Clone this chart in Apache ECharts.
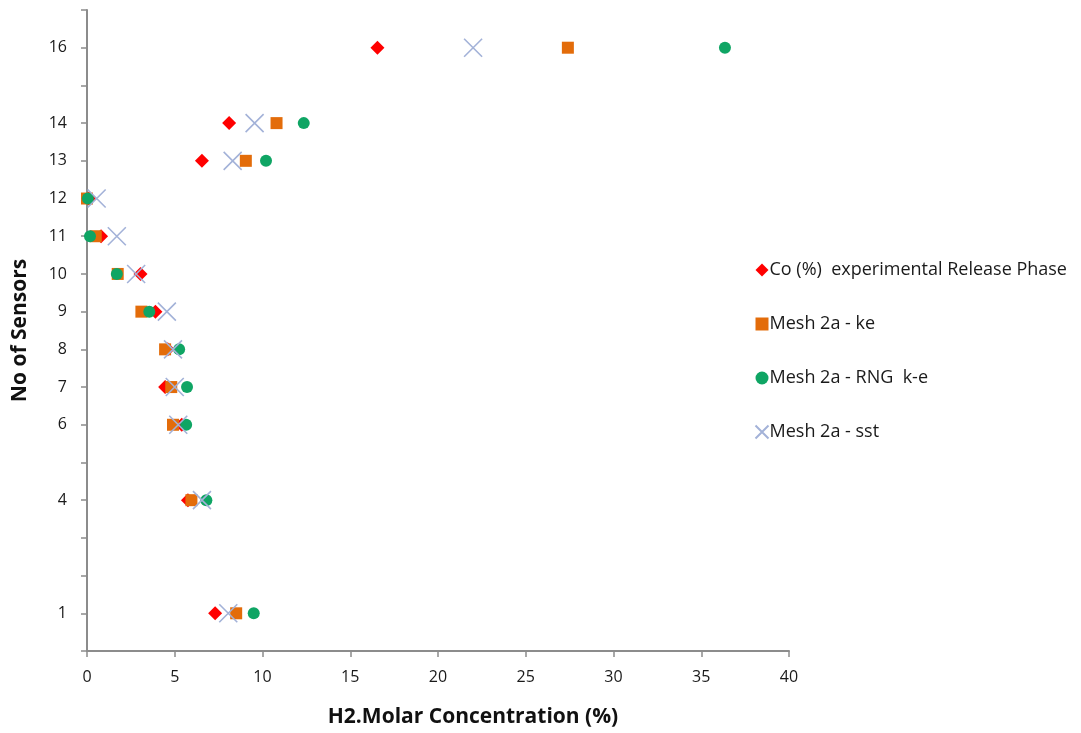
<!DOCTYPE html>
<html>
<head>
<meta charset="utf-8">
<script src="https://cdn.jsdelivr.net/npm/echarts@6/dist/echarts.min.js"></script>
<style>
  html, body { margin: 0; padding: 0; background: #ffffff; }
  #chart { width: 1081px; height: 733px; }
</style>
</head>
<body>
<div id="chart"></div>
<script>
// Sensor numbers (y) and H2 molar concentration (%) per sensor for each data set
const sensors = [16, 14, 13, 12, 11, 10, 9, 8, 7, 6, 4, 1];
const coExperimental = [16.55, 8.1, 6.55, 0.1, 0.8, 3.05, 3.9, 4.6, 4.45, 5.4, 5.75, 7.3];
const meshKe        = [27.4, 10.8, 9.05, 0.0, 0.5, 1.75, 3.1, 4.45, 4.8, 4.9, 5.95, 8.5];
const meshRngKe     = [36.35, 12.35, 10.2, 0.05, 0.17, 1.7, 3.55, 5.25, 5.7, 5.65, 6.8, 9.5];
const meshSst       = [22.0, 9.55, 8.3, 0.55, 1.7, 2.8, 4.55, 4.9, 5.0, 5.2, 6.55, 8.05];

const seriesNames = [
  'Co (%)  experimental Release Phase',
  'Mesh 2a - ke',
  'Mesh 2a - RNG  k-e',
  'Mesh 2a - sst'
];
const xTicks = [0, 5, 10, 15, 20, 25, 30, 35, 40];
const yTickLabels = sensors.map(String);

const pairs = vals => vals.map((v, i) => [v, sensors[i]]);

const axisGrey = '#8c8c8c';
const textFont = '"Open Sans", Lato, sans-serif';
const crossPath = 'path://M0,0L10,10M10,0L0,10';

const chart = echarts.init(document.getElementById('chart'), null, { renderer: 'canvas' });
chart.setOption({
  animation: false,
  backgroundColor: '#ffffff',
  textStyle: { fontFamily: textFont },
  grid: { left: 87, right: 292, top: 10, bottom: 81, containLabel: false },
  legend: {
    orient: 'vertical',
    left: 748,
    top: 256,
    itemWidth: 13,
    itemHeight: 13,
    itemGap: 36,
    textStyle: { fontFamily: textFont, fontSize: 18, color: '#1a1a1a', padding: [0, 0, 0, -4] },
    data: seriesNames
  },
  xAxis: {
    type: 'value',
    min: xTicks[0],
    max: xTicks[xTicks.length - 1],
    interval: 5,
    name: 'H2.Molar Concentration (%)',
    nameLocation: 'middle',
    nameGap: 56,
    nameTextStyle: {
      fontFamily: textFont, fontSize: 21, fontWeight: 'bold', color: '#111',
      padding: [0, 0, 0, 70]
    },
    axisLine: { show: true, onZero: false, lineStyle: { color: axisGrey, width: 2 } },
    axisTick: { show: true, length: 6, lineStyle: { color: axisGrey, width: 1.5 } },
    axisLabel: { fontFamily: textFont, fontSize: 16, color: '#1a1a1a', margin: 18 },
    splitLine: { show: false }
  },
  yAxis: {
    type: 'value',
    min: 0,
    max: 17,
    interval: 1,
    name: 'No of Sensors',
    nameLocation: 'middle',
    nameGap: 56,
    nameRotate: 90,
    nameTextStyle: { fontFamily: textFont, fontSize: 21, fontWeight: 'bold', color: '#111' },
    axisLine: { show: true, onZero: false, lineStyle: { color: axisGrey, width: 2 } },
    axisTick: { show: true, length: 6, lineStyle: { color: axisGrey, width: 1.5 } },
    axisLabel: {
      fontFamily: textFont, fontSize: 16, color: '#1a1a1a', margin: 20,
      formatter: v => (yTickLabels.indexOf(String(v)) >= 0 ? String(v) : '')
    },
    splitLine: { show: false }
  },
  series: [
    {
      name: seriesNames[0], type: 'scatter', symbol: 'diamond', symbolSize: 14,
      itemStyle: { color: '#ff0000', opacity: 1 }, data: pairs(coExperimental), z: 4
    },
    {
      name: seriesNames[1], type: 'scatter', symbol: 'rect', symbolSize: 12,
      itemStyle: { color: '#e36c0a', opacity: 1 }, data: pairs(meshKe), z: 5
    },
    {
      name: seriesNames[2], type: 'scatter', symbol: 'circle', symbolSize: 12,
      itemStyle: { color: '#0fa564', opacity: 1 }, data: pairs(meshRngKe), z: 6
    },
    {
      name: seriesNames[3], type: 'scatter', symbol: crossPath, symbolSize: 18,
      itemStyle: { color: 'none', borderColor: '#a3b2d8', borderWidth: 1.6, opacity: 1 },
      data: pairs(meshSst), z: 7
    }
  ]
});
</script>
</body>
</html>
